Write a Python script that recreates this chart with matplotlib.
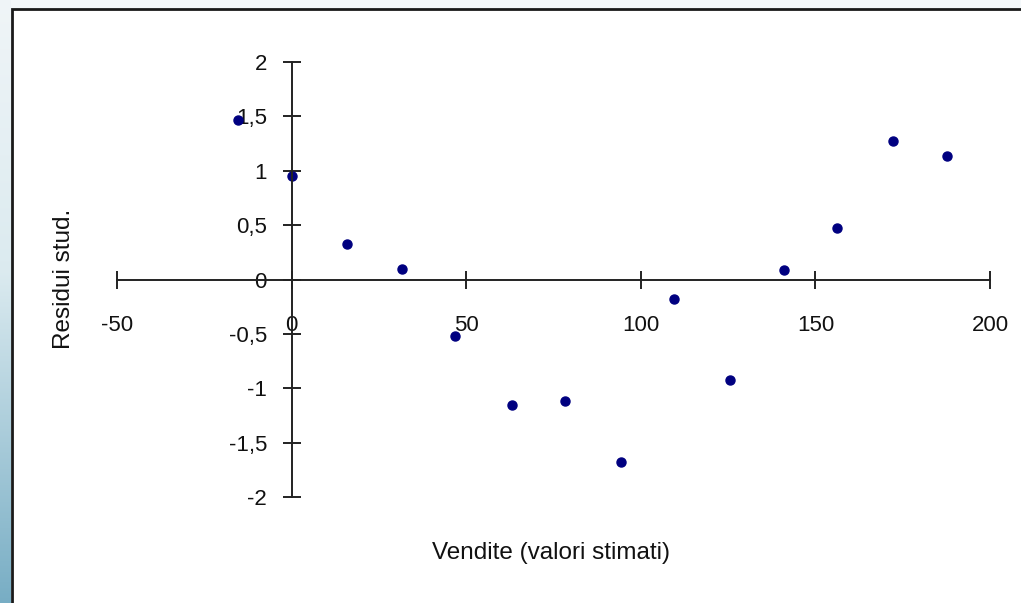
"""Studentized residuals vs estimated sales, axes crossing at the origin."""

import matplotlib

matplotlib.use("Agg")
import matplotlib.pyplot as plt  # noqa: E402
import numpy as np  # noqa: E402
from matplotlib.patches import Rectangle  # noqa: E402

# --- data ------------------------------------------------------------------
vendite_stimate = [-15.4, 0.2, 16.0, 31.5, 46.9, 63.0, 78.4, 94.2,
                   109.6, 125.6, 141.1, 156.3, 172.3, 187.8]
residui_stud = [1.47, 0.95, 0.33, 0.10, -0.52, -1.15, -1.12, -1.68,
                -0.18, -0.92, 0.09, 0.47, 1.27, 1.14]

x_ticks = [-50, 0, 50, 100, 150, 200]
y_ticks = [-2, -1.5, -1, -0.5, 0, 0.5, 1, 1.5, 2]
y_tick_labels = ["-2", "-1,5", "-1", "-0,5", "0", "0,5", "1", "1,5", "2"]

W, H = 1021, 603
plt.rcParams["font.family"] = ["Liberation Sans", "DejaVu Sans"]

fig = plt.figure(figsize=(W / 100, H / 100), dpi=100)
fig.patch.set_facecolor("#f4f8fa")

# slide background peeking out on the left (vertical gradient)
bg = fig.add_axes([0, 0, 11 / W, 1], zorder=0)
grad = np.linspace(0, 1, 256)[:, None]
top = np.array([0.94, 0.96, 0.97])
mid = np.array([0.86, 0.92, 0.94])
bot = np.array([0.47, 0.68, 0.77])
cols = np.where(grad < 0.45, top + (mid - top) * (grad / 0.45),
                mid + (bot - mid) * ((grad - 0.45) / 0.55))
bg.imshow(cols.reshape(256, 1, 3), aspect="auto", extent=(0, 1, 1, 0))
bg.axis("off")

# white chart area with dark frame
frame = Rectangle((11.5 / W, -0.1), 1.2, 1 - 9.5 / H + 0.1, transform=fig.transFigure,
                  facecolor="white", edgecolor="#1a1a1a", linewidth=2.0, zorder=1)
fig.patches.append(frame)

# main plot: x -50..200 -> px 117..990, y -2..2 -> px 497..62
ax = fig.add_axes([117 / W, (H - 497) / H, 873 / W, 435 / H], zorder=2)
ax.patch.set_alpha(0)
ax.plot(vendite_stimate, residui_stud, "o", color="#000080", markersize=6.5, clip_on=False)

ax.set_xlim(-50, 200)
ax.set_ylim(-2, 2)
ax.spines["left"].set_position(("data", 0))
ax.spines["bottom"].set_position(("data", 0))
ax.spines["top"].set_visible(False)
ax.spines["right"].set_visible(False)
for s in ("left", "bottom"):
    ax.spines[s].set_linewidth(1.4)
    ax.spines[s].set_color("#222222")

ax.set_xticks(x_ticks)
ax.set_xticklabels([str(v) for v in x_ticks])
ax.set_yticks(y_ticks)
ax.set_yticklabels(y_tick_labels)
ax.tick_params(axis="both", direction="inout", length=13.5, width=1.4,
               color="#222222", labelsize=16, labelcolor="#111111")
ax.tick_params(axis="y", pad=11)
ax.tick_params(axis="x", pad=19)

fig.text(64 / W, 1 - 279 / H, "Residui stud.", rotation=90, ha="center", va="center",
         fontsize=17.5, color="#111111")
fig.text(551 / W, 1 - 553 / H, "Vendite (valori stimati)", ha="center", va="center",
         fontsize=17.5, color="#111111")

fig.savefig("out.png", dpi=100, facecolor=fig.get_facecolor())
